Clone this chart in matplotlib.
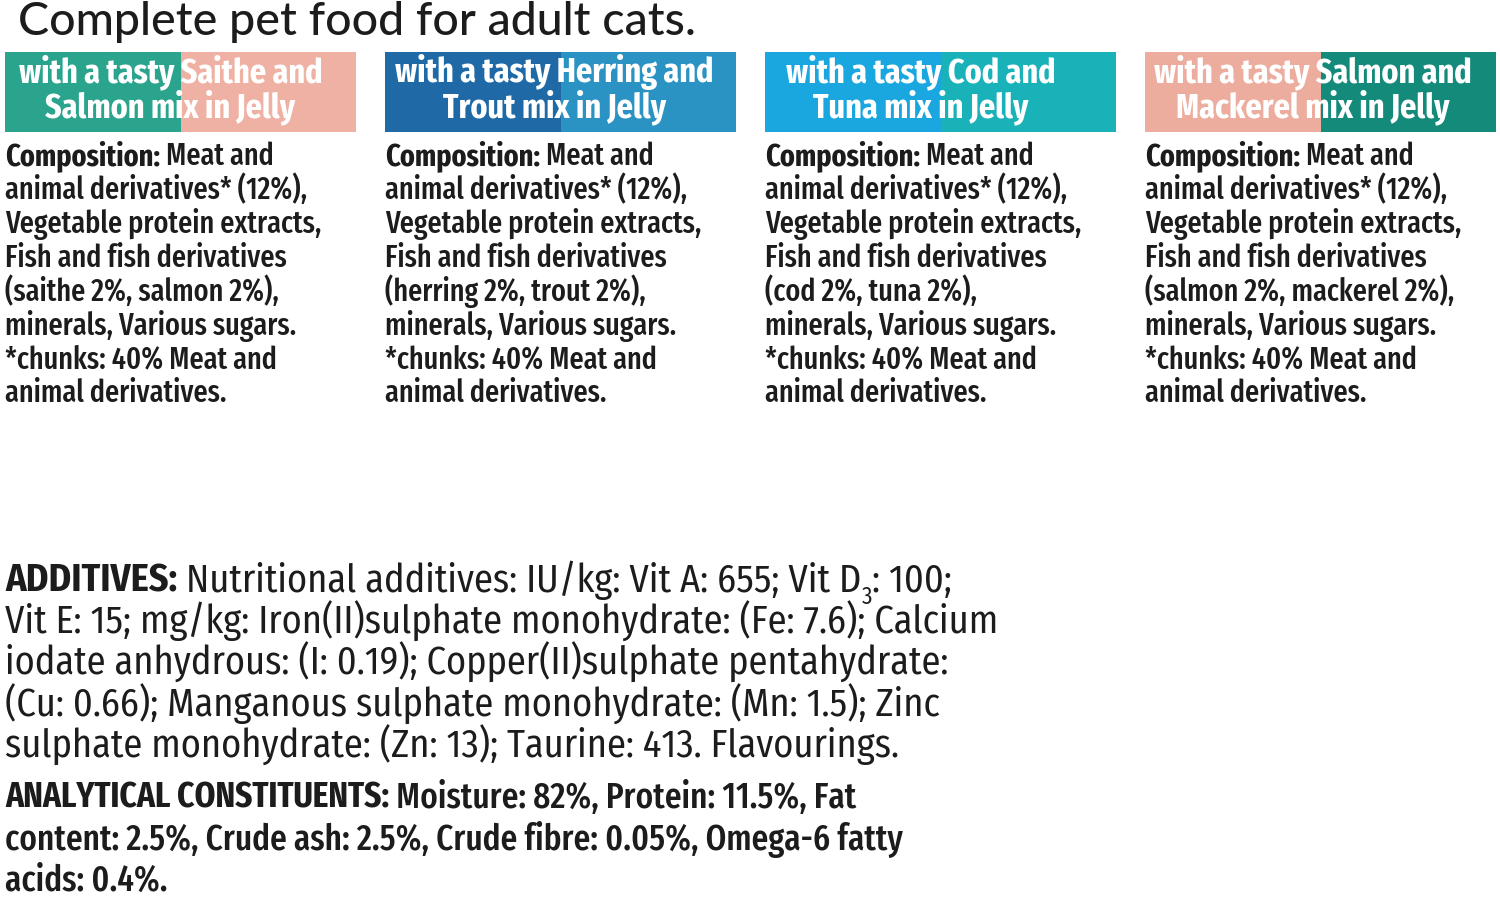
import matplotlib
matplotlib.use("Agg")
import matplotlib.pyplot as plt
from matplotlib.patches import Rectangle

# --- content -------------------------------------------------------------
title = "Complete pet food for adult cats."

header_lines = [
    ("with a tasty Saithe and", "Salmon mix in Jelly"),
    ("with a tasty Herring and", "Trout mix in Jelly"),
    ("with a tasty Cod and", "Tuna mix in Jelly"),
    ("with a tasty Salmon and", "Mackerel mix in Jelly"),
]
header_colors = [
    ("#2ba48e", "#eeb1a3"),
    ("#1f6aa6", "#2b92c4"),
    ("#1aa6de", "#1ab2b9"),
    ("#ecad9e", "#148a7b"),
]
fish = [("saithe", "salmon"), ("herring", "trout"), ("cod", "tuna"), ("salmon", "mackerel")]

additive_lines = [
    [("ADDITIVES:", "bold"), (" Nutritional additives: IU/kg: Vit A: 655; Vit D", "normal"),
     ("3", "sub"), (": 100;", "normal")],
    [("Vit E: 15; mg/kg: Iron(II)sulphate monohydrate: (Fe: 7.6); Calcium", "normal")],
    [("iodate anhydrous: (I: 0.19); Copper(II)sulphate pentahydrate:", "normal")],
    [("(Cu: 0.66); Manganous sulphate monohydrate: (Mn: 1.5); Zinc", "normal")],
    [("sulphate monohydrate: (Zn: 13); Taurine: 413. Flavourings.", "normal")],
]
analytical_lines = [
    [("ANALYTICAL CONSTITUENTS:", "bold"), (" Moisture: 82%, Protein: 11.5%, Fat", "medium")],
    [("content: 2.5%, Crude ash: 2.5%, Crude fibre: 0.05%, Omega-6 fatty", "medium")],
    [("acids: 0.4%.", "medium")],
]

NARROW = ["Fira Sans Extra Condensed", "PT Sans Narrow", "DejaVu Sans"]
SEMI = ["Fira Sans Condensed", "DejaVu Sans"]
TITLE_FONT = ["Lato", "Open Sans", "DejaVu Sans"]
INK = "#1c1c1c"

fig = plt.figure(figsize=(15, 8.97), dpi=100)
ax = fig.add_axes([0, 0, 1, 1])
ax.set_xlim(0, 1500)
ax.set_ylim(897, 0)
ax.axis("off")
renderer = fig.canvas.get_renderer()
inv = ax.transData.inverted()


def fit_size(txt, family, width, weight="normal"):
    """Font size that makes txt about `width` pixels wide."""
    t = ax.text(0, 0, txt, fontsize=10, family=family, fontweight=weight)
    w = t.get_window_extent(renderer).width
    t.remove()
    return 10 * width / w


def runs(x, y, parts, size, family, color=INK):
    """Draw a line made of several styled pieces, one after another."""
    for txt, style in parts:
        if style == "sub":
            t = ax.text(x, y + size * 0.45, txt, fontsize=size * 0.6, family=family,
                        color=color, va="baseline")
        else:
            t = ax.text(x, y, txt, fontsize=size, family=family, color=color,
                        fontweight=style, va="baseline")
        bb = t.get_window_extent(renderer)
        x = inv.transform((bb.x1, bb.y0))[0]


ax.text(18, 35, title, fontsize=fit_size(title, TITLE_FONT, 680, "medium"), family=TITLE_FONT,
        fontweight="medium", color=INK, va="baseline")

head_size = fit_size("with a tasty Herring and", NARROW, 320, "bold")
comp_size = fit_size("Vegetable protein extracts,", NARROW, 318, "medium")
box_w, box_h, gap = 351, 80, 29
head_shift = [-10, -6, -20, -8]   # the labels sit a little left of centre
for i, ((l1, l2), (c_left, c_right), (f1, f2)) in enumerate(zip(header_lines, header_colors, fish)):
    x0 = 5 + i * (box_w + gap)
    ax.add_patch(Rectangle((x0, 52), box_w / 2, box_h, color=c_left, lw=0))
    ax.add_patch(Rectangle((x0 + box_w / 2, 52), box_w / 2, box_h, color=c_right, lw=0))
    cx = x0 + box_w / 2 + head_shift[i]
    ax.text(cx, 82, l1, fontsize=head_size, family=NARROW, color="white", fontweight="bold",
            ha="center", va="baseline")
    ax.text(cx, 117, l2, fontsize=head_size, family=NARROW, color="white", fontweight="bold",
            ha="center", va="baseline")

    comp = [
        [("Composition:", "bold"), (" Meat and", "medium")],
        [("animal derivatives* (12%),", "medium")],
        [("Vegetable protein extracts,", "medium")],
        [("Fish and fish derivatives", "medium")],
        [(f"({f1} 2%, {f2} 2%),", "medium")],
        [("minerals, Various sugars.", "medium")],
        [("*chunks: 40% Meat and", "medium")],
        [("animal derivatives.", "medium")],
    ]
    for j, parts in enumerate(comp):
        runs(x0, 165 + j * 33.9, parts, comp_size, NARROW)

add_size = fit_size(additive_lines[1][0][0], SEMI, 995)
for j, parts in enumerate(additive_lines):
    runs(5, 592 + j * 41.5, parts, add_size, SEMI)
an_size = fit_size(analytical_lines[1][0][0], NARROW, 898, "medium")
for j, parts in enumerate(analytical_lines):
    runs(5, 808 + j * 41.5, parts, an_size, NARROW)

fig.savefig("out.png", dpi=100, facecolor="white")
